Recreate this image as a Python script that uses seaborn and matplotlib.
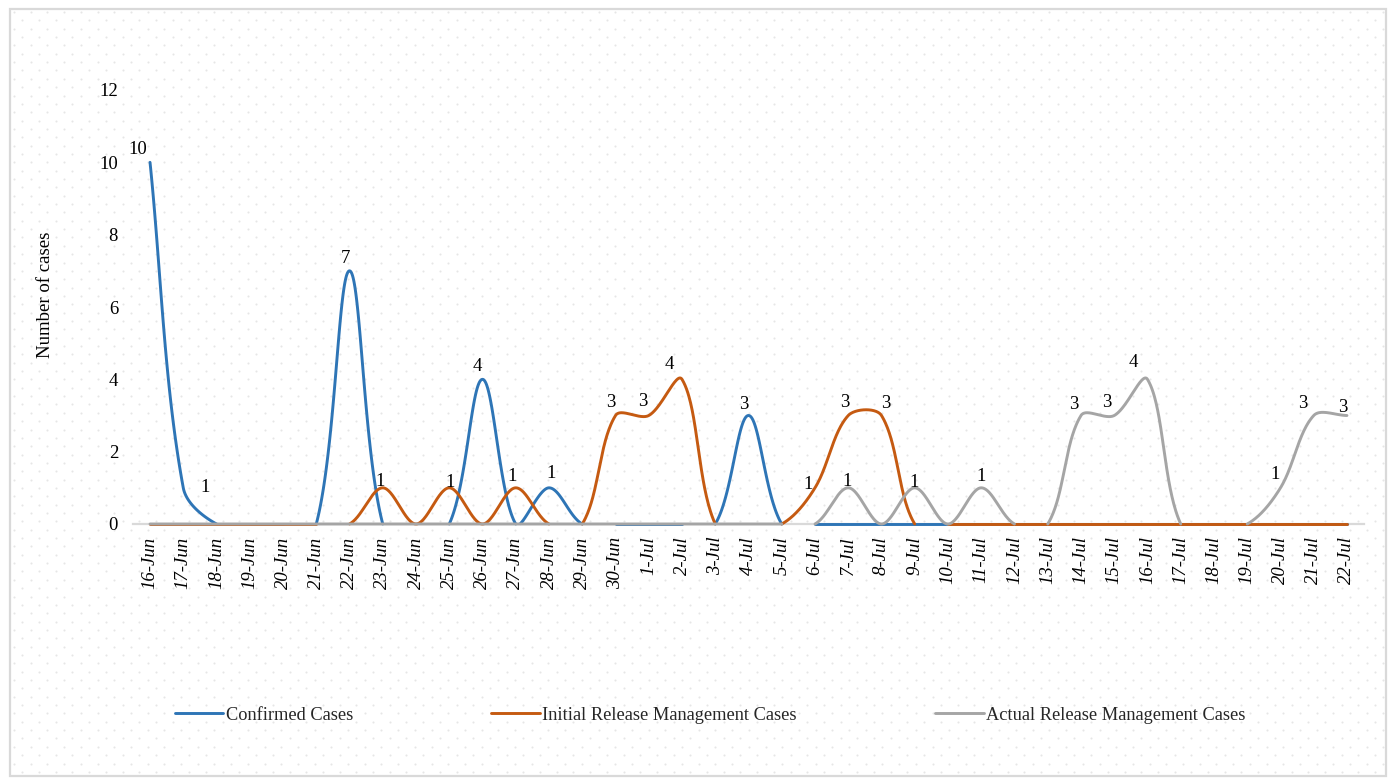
import numpy as np
import pandas as pd
import matplotlib
matplotlib.use("Agg")
import matplotlib.pyplot as plt
import seaborn as sns
from matplotlib.lines import Line2D
from matplotlib.patches import Rectangle

# ---- data -------------------------------------------------------------
dates = ["16-Jun", "17-Jun", "18-Jun", "19-Jun", "20-Jun", "21-Jun", "22-Jun",
         "23-Jun", "24-Jun", "25-Jun", "26-Jun", "27-Jun", "28-Jun", "29-Jun",
         "30-Jun", "1-Jul", "2-Jul", "3-Jul", "4-Jul", "5-Jul", "6-Jul",
         "7-Jul", "8-Jul", "9-Jul", "10-Jul", "11-Jul", "12-Jul", "13-Jul",
         "14-Jul", "15-Jul", "16-Jul", "17-Jul", "18-Jul", "19-Jul", "20-Jul",
         "21-Jul", "22-Jul"]

confirmed = [10, 1, 0, 0, 0, 0, 7, 0, 0, 0, 4, 0, 1, 0, 0, 0, 0, 0, 3, 0,
             0, 0, 0, 0, 0, 0, 0, 0, 0, 0, 0, 0, 0, 0, 0, 0, 0]
initial_release = [0, 0, 0, 0, 0, 0, 0, 1, 0, 1, 0, 1, 0, 0, 3, 3, 4, 0, 0, 0,
                   1, 3, 3, 0, 0, 0, 0, 0, 0, 0, 0, 0, 0, 0, 0, 0, 0]
actual_release = [0, 0, 0, 0, 0, 0, 0, 0, 0, 0, 0, 0, 0, 0, 0, 0, 0, 0, 0, 0,
                  0, 1, 0, 1, 0, 1, 0, 0, 3, 3, 4, 0, 0, 0, 1, 3, 3]

series_names = ["Confirmed Cases", "Initial Release Management Cases",
                "Actual Release Management Cases"]

# ---- styling ----------------------------------------------------------
colors = ["#2E75B6", "#C55A11", "#A5A5A5"]
# value-label offsets in pixels (dx, dy) keyed by day index
label_offsets = [
    {0: (-12, 13), 1: (22, 0), 6: (-4, 12), 10: (-5, 13), 12: (2, 14), 18: (-5, 11)},
    {7: (-3, 6), 9: (1, 5), 11: (-4, 11), 14: (-5, 13), 15: (-6, 14),
     16: (-13, 15), 20: (-7, 3), 21: (-3, 13), 22: (4, 12)},
    {21: (-1, 6), 23: (-1, 5), 25: (0, 11), 28: (-7, 11), 29: (-7, 13),
     30: (-14, 17), 34: (-5, 13), 35: (-11, 12), 36: (-4, 8)},
]

sns.set_theme(style="white")
plt.rcParams["font.family"] = ["Liberation Serif", "DejaVu Serif"]
FS = 13.5

W, H = 1390, 778
fig = plt.figure(figsize=(W / 100, H / 100), dpi=100)
fig.patch.set_facecolor("white")

# dotted backdrop and outer frame
bg = fig.add_axes([0, 0, 1, 1], zorder=-5)
bg.set_xlim(0, W)
bg.set_ylim(H, 0)
bg.axis("off")
dx, dy = 16.7, 8.35
rows = np.arange(12, H - 4, dy)
gx, gy = [], []
for r, yv in enumerate(rows):
    xs_row = np.arange(14 + (dx / 2 if r % 2 else 0), W - 6, dx)
    gx.extend(xs_row)
    gy.extend([yv] * len(xs_row))
bg.scatter(gx, gy, s=2.2, color="#E6E6E6", linewidths=0)
bg.add_patch(Rectangle((10, 9), 1376, 767, fill=False, edgecolor="#D9D9D9", lw=1.6))

# main plotting area
left, right, top, bottom = 133.4, 1363.6, 90, 524
ax = fig.add_axes([left / W, 1 - bottom / H, (right - left) / W, (bottom - top) / H])
ax.set_facecolor("none")
n = len(dates)
ax.set_xlim(-0.5, n - 0.5)
ax.set_ylim(0, 12)


def smooth_curve(axis, xs, ys, samples=60):
    """Bezier smoothing in screen space, tangents weighted by segment lengths."""
    pts = axis.transData.transform(np.column_stack([xs, ys]).astype(float))
    m = len(pts)
    out = []
    for i in range(m - 1):
        p0, p3 = pts[i], pts[i + 1]
        if i == 0:
            c1 = p0 + (p3 - p0) / 3
        else:
            prev = pts[i - 1]
            d1 = np.linalg.norm(p0 - prev)
            d2 = np.linalg.norm(p3 - p0)
            c1 = p0 + (p3 - prev) * d2 / (d1 + d2) / 3
        if i + 1 == m - 1:
            c2 = p3 - (p3 - p0) / 3
        else:
            nxt = pts[i + 2]
            d1 = np.linalg.norm(p3 - p0)
            d2 = np.linalg.norm(nxt - p3)
            c2 = p3 - (nxt - p0) * d1 / (d1 + d2) / 3
        t = np.linspace(0, 1, samples, endpoint=(i == m - 2))[:, None]
        seg = ((1 - t) ** 3) * p0 + 3 * ((1 - t) ** 2) * t * c1 \
            + 3 * (1 - t) * t ** 2 * c2 + t ** 3 * p3
        out.append(seg)
    curve = np.vstack(out)
    return axis.transData.inverted().transform(curve)


x_idx = np.arange(n)
all_series = [confirmed, initial_release, actual_release]
for k, (vals, col) in enumerate(zip(all_series, colors)):
    cur = smooth_curve(ax, x_idx, vals)
    cx, cy = cur[:, 0], cur[:, 1]
    keep = cy >= -1e-6
    # split the curve into visible pieces (parts dipping below zero are hidden)
    piece = np.cumsum(np.r_[0, np.diff(keep.astype(int)) != 0])
    df = pd.DataFrame({"x": cx[keep], "y": np.clip(cy[keep], 0, None), "piece": piece[keep]})
    before = len(ax.lines)
    sns.lineplot(data=df, x="x", y="y", units="piece", estimator=None, sort=False,
                 color=col, lw=2.1, ax=ax, legend=False)
    for ln in ax.lines[before:]:
        ln.set_clip_on(False)
        ln.set_zorder(3 + k)
        ln.set_solid_capstyle("round")
    for i, v in enumerate(vals):
        if v != 0:
            ox, oy = label_offsets[k].get(i, (0, 12))
            ax.annotate(str(v), (i, v), xytext=(ox, oy), textcoords="offset pixels",
                        ha="center", va="center", fontsize=FS, color="#000000",
                        zorder=10, annotation_clip=False)

# axes decoration
for s in ["top", "right", "left"]:
    ax.spines[s].set_visible(False)
ax.spines["bottom"].set_color("#D9D9D9")
ax.spines["bottom"].set_linewidth(1.6)
ax.spines["bottom"].set_zorder(1)
ax.set_xticks(x_idx)
ax.set_xticklabels(dates, rotation=90, fontstyle="italic", fontsize=FS, va="top", ha="center")
ax.set_yticks(np.arange(0, 13, 2))
ax.set_yticklabels([str(v) for v in range(0, 13, 2)], fontsize=FS)
ax.tick_params(axis="x", length=0, pad=9, colors="#000000")
ax.tick_params(axis="y", length=0, pad=11, colors="#000000")
ax.set_xlabel("")
ax.set_ylabel("")
ax.grid(False)

fig.text(45 / W, 1 - 295 / H, "Number of cases", rotation=90, ha="center", va="center",
         fontsize=FS, color="#000000")

handles = [Line2D([], [], color=c, lw=2.1) for c in colors]
fig.legend(handles, series_names, loc="center", bbox_to_anchor=(710 / W, 1 - 715 / H),
           ncol=3, frameon=False, fontsize=13.2, handlelength=2.65, handletextpad=0.12,
           columnspacing=7.55)

fig.savefig("out.png", dpi=100, facecolor="white")
